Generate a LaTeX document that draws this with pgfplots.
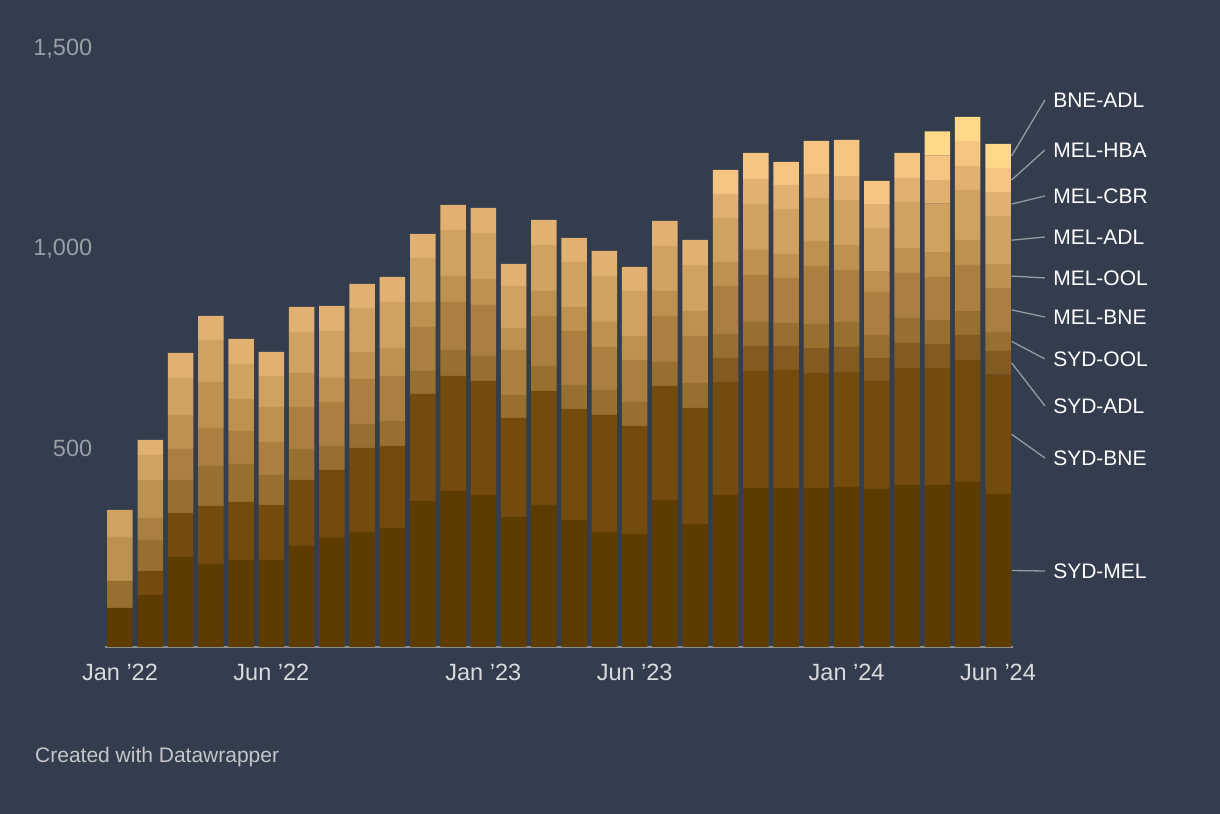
\documentclass[border=0pt]{standalone}
\usepackage{pgfplots}
\pgfplotsset{compat=1.18}
\usepackage{pgfplotstable}
\usepackage{fontspec}
\setmainfont{Liberation Sans}

\definecolor{bgcol}{HTML}{333D4D}
\definecolor{xtickcol}{HTML}{D8DADD}
\definecolor{ytickcol}{HTML}{989EA6}
\definecolor{footcol}{HTML}{C4C6C9}
\definecolor{basecol}{HTML}{8E8E8E}
\definecolor{linecol}{HTML}{969AA1}
\definecolor{c1}{HTML}{5E3C00}
\definecolor{c2}{HTML}{724B0D}
\definecolor{c3}{HTML}{835A1F}
\definecolor{c4}{HTML}{976F2F}
\definecolor{c5}{HTML}{AA7F40}
\definecolor{c6}{HTML}{BD924F}
\definecolor{c7}{HTML}{CFA35F}
\definecolor{c8}{HTML}{E1B171}
\definecolor{c9}{HTML}{F5C581}
\definecolor{c10}{HTML}{FFD88A}

\newcommand\lblfont{\fontsize{21bp}{25bp}\selectfont}
\newcommand\tickfont{\fontsize{23.5bp}{28bp}\selectfont}
\tikzset{lbl/.style={anchor=west, inner sep=0pt, text=white, font=\lblfont},
         conn/.style={line width=1.3bp, draw=linecol}}

\pgfplotstableread{
x  SYDMEL SYDBNE SYDADL SYDOOL MELBNE MELOOL MELADL MELCBR MELHBA BNEADL
0  97.5   0      0      67.5   0      110    67.5   0      0      0
1  130    60     0      77.5   55     95     62.5   37.5   0      0
2  225    110    0      82.5   77.5   85     92.5   62.5   0      0
3  207.5  145    0      100    95     115    105    60     0      0
4  217.5  145    0      95     82.5   80     87.5   62.5   0      0
5  217.5  137.5  0      75     82.5   87.5   77.5   60     0      0
6  252.5  165    0      77.5   105    85     102.5  62.5   0      0
7  272.5  170    0      60     110    60     117.5  62.5   0      0
8  287.5  210    0      60     112.5  67.5   110    60     0      0
9  297.5  205    0      62.5   112.5  70     115    62.5   0      0
10 365    267.5  0      57.5   110    62.5   110    60     0      0
11 390    287.5  0      65     120    65     115    62.5   0      0
12 380    285    0      62.5   127.5  65     115    62.5   0      0
13 325    247.5  0      57.5   112.5  55     105    55     0      0
14 355    285    0      62.5   125    62.5   115    62.5   0      0
15 317.5  277.5  0      60     135    60     112.5  60     0      0
16 287.5  292.5  0      62.5   107.5  62.5   115    62.5   0      0
17 282.5  270    0      60     105    60     112.5  60     0      0
18 367.5  285    0      60     115    62.5   112.5  62.5   0      0
19 307.5  290    0      62.5   117.5  62.5   115    62.5   0      0
20 380    282.5  60     60     120    60     110    60     60     0
21 397.5  292.5  62.5   60     117.5  62.5   115    62.5   65     0
22 397.5  295    60     57.5   112.5  60     112.5  60     57.5   0
23 397.5  287.5  62.5   60     145    62.5   107.5  60     82.5   0
24 400    287.5  62.5   62.5   130    62.5   112.5  60     90     0
25 395    270    57     58     108    51.5   108    60.5   57     0
26 405    292.5  62.5   62.5   112.5  62.5   115    60     62.5   0
27 405    292.5  60     60.5   107.5  61.5   121.5  59.5   60.5   60.5
28 412.5  305    62.5   59.5   115.5  62.5   125    60     62.5   60.5
29 382.5  298.5  59     48     109.5  59.5   120    60.5   60     60.5
}\datatable

\begin{document}
\begin{tikzpicture}
\path[use as bounding box] (0,0) rectangle (1220bp,814bp);
\fill[bgcol] (0,0) rectangle (1220bp,814bp);
\node[anchor=base west, inner sep=0pt, text=footcol, font=\lblfont] at (35bp,51bp) {Created with Datawrapper};
\begin{axis}[
  at={(104.86bp,167bp)}, anchor=south west,
  scale only axis, width=908.28bp, height=600bp,
  xmin=-0.5, xmax=29.5, ymin=0, ymax=1500,
  ybar stacked, bar width=25.5bp,
  separate axis lines,
  axis x line*=bottom,
  x axis line style={draw=basecol, line width=1.3bp},
  axis y line*=left,
  y axis line style={draw=none},
  major tick length=0pt,
  tick style={draw=none},
  xtick={0,5,12,17,24,29},
  xticklabels={Jan ’22,Jun ’22,Jan ’23,Jun ’23,Jan ’24,Jun ’24},
  ytick={500,1000,1500},
  yticklabels={500,{1,000},{1,500}},
  xticklabel style={font=\tickfont, text=xtickcol, anchor=north, inner sep=0pt, yshift=-17bp},
  yticklabel style={font=\tickfont, text=ytickcol, anchor=east, inner sep=0pt, xshift=-12.5bp, yshift=-1.5bp},
  clip=false,
]
\addplot[fill=c1, draw=none] table[x=x, y=SYDMEL] {\datatable};
\addplot[fill=c2, draw=none] table[x=x, y=SYDBNE] {\datatable};
\addplot[fill=c3, draw=none] table[x=x, y=SYDADL] {\datatable};
\addplot[fill=c4, draw=none] table[x=x, y=SYDOOL] {\datatable};
\addplot[fill=c5, draw=none] table[x=x, y=MELBNE] {\datatable};
\addplot[fill=c6, draw=none] table[x=x, y=MELOOL] {\datatable};
\addplot[fill=c7, draw=none] table[x=x, y=MELADL] {\datatable};
\addplot[fill=c8, draw=none] table[x=x, y=MELCBR] {\datatable};
\addplot[fill=c9, draw=none] table[x=x, y=MELHBA] {\datatable};
\addplot[fill=c10, draw=none] table[x=x, y=BNEADL] {\datatable};

\draw[conn] (axis cs:29.45,1227.75) -- (axis cs:30.55,1367.5);
\draw[conn] (axis cs:29.45,1167.5) -- (axis cs:30.55,1242.5);
\draw[conn] (axis cs:29.45,1107.25) -- (axis cs:30.55,1127.5);
\draw[conn] (axis cs:29.45,1017) -- (axis cs:30.55,1025);
\draw[conn] (axis cs:29.45,927.25) -- (axis cs:30.55,922.5);
\draw[conn] (axis cs:29.45,842.75) -- (axis cs:30.55,825);
\draw[conn] (axis cs:29.45,764) -- (axis cs:30.55,720);
\draw[conn] (axis cs:29.45,710.5) -- (axis cs:30.55,602.5);
\draw[conn] (axis cs:29.45,531.75) -- (axis cs:30.55,472.5);
\draw[conn] (axis cs:29.45,191.25) -- (axis cs:30.55,190);
\node[lbl] at (axis cs:30.82,1367.5) {BNE-ADL};
\node[lbl] at (axis cs:30.82,1242.5) {MEL-HBA};
\node[lbl] at (axis cs:30.82,1127.5) {MEL-CBR};
\node[lbl] at (axis cs:30.82,1025) {MEL-ADL};
\node[lbl] at (axis cs:30.82,922.5) {MEL-OOL};
\node[lbl] at (axis cs:30.82,825) {MEL-BNE};
\node[lbl] at (axis cs:30.82,720) {SYD-OOL};
\node[lbl] at (axis cs:30.82,602.5) {SYD-ADL};
\node[lbl] at (axis cs:30.82,472.5) {SYD-BNE};
\node[lbl] at (axis cs:30.82,190) {SYD-MEL};
\end{axis}
\end{tikzpicture}
\end{document}
